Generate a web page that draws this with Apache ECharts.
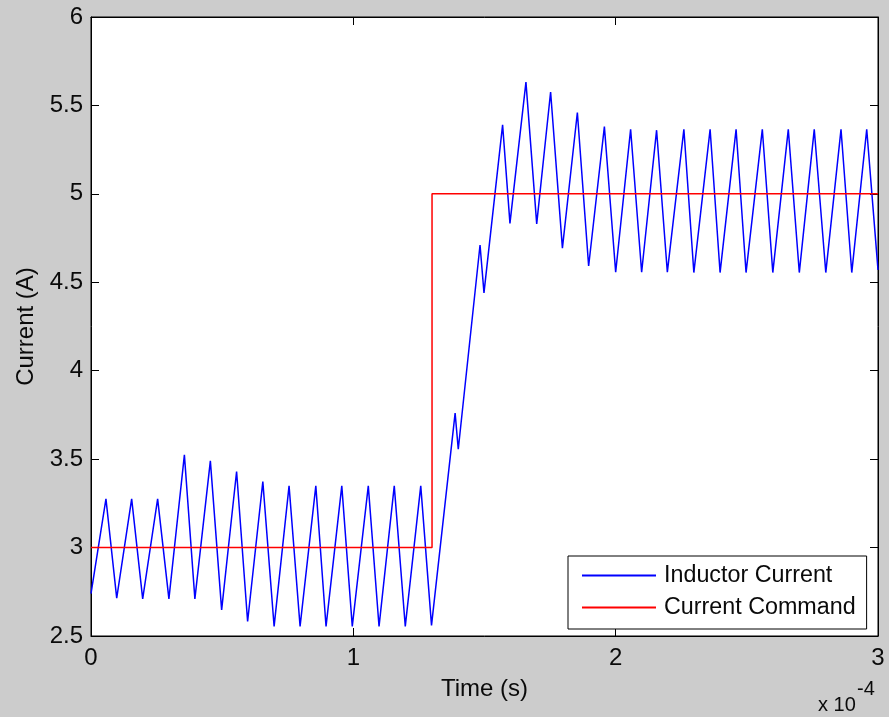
<!DOCTYPE html>
<html>
<head>
<meta charset="utf-8">
<script src="https://cdn.jsdelivr.net/npm/echarts@6/dist/echarts.min.js"></script>
<style>
  html, body { margin: 0; padding: 0; background: #cccccc; }
  #chart { width: 889px; height: 717px; }
</style>
</head>
<body>
<div id="chart"></div>
<script>
// Time axis values are in units of 1e-4 s (the axis carries an "x 10^-4" multiplier).
const inductorTime = [
  0, 0.057, 0.098, 0.155, 0.197, 0.254, 0.297, 0.356, 0.396, 0.455,
  0.498, 0.555, 0.597, 0.655, 0.698, 0.755, 0.797, 0.857, 0.896, 0.956,
  0.996, 1.057, 1.098, 1.156, 1.198, 1.257, 1.298, 1.388, 1.400, 1.483,
  1.498, 1.569, 1.597, 1.658, 1.699, 1.752, 1.797, 1.854, 1.897, 1.957,
  2.000, 2.057, 2.099, 2.156, 2.197, 2.260, 2.298, 2.360, 2.398, 2.459,
  2.497, 2.559, 2.599, 2.658, 2.700, 2.757, 2.801, 2.859, 2.900, 2.957,
  3.000
];
const inductorCurrent = [
  2.74, 3.275, 2.714, 3.275, 2.71, 3.275, 2.71, 3.524, 2.71, 3.49,
  2.648, 3.43, 2.582, 3.373, 2.554, 3.349, 2.554, 3.349, 2.554, 3.349,
  2.554, 3.349, 2.554, 3.349, 2.554, 3.349, 2.56, 3.76, 3.556, 4.711,
  4.44, 5.39, 4.833, 5.632, 4.83, 5.576, 4.693, 5.46, 4.592, 5.38,
  4.557, 5.365, 4.557, 5.36, 4.557, 5.365, 4.555, 5.365, 4.555, 5.365,
  4.555, 5.365, 4.555, 5.365, 4.555, 5.365, 4.555, 5.365, 4.555, 5.365,
  4.57
];
const commandTime = [0, 1.3, 1.3, 3];
const commandCurrent = [3, 3, 5, 5];

const xTicks = [0, 1, 2, 3];
const yTicks = [2.5, 3, 3.5, 4, 4.5, 5, 5.5, 6];

const FONT = "'Liberation Sans', Arial, sans-serif";
const TEXT = '#0a0a0a';
const FS = 24;

const zip = (a, b) => a.map((v, i) => [v, b[i]]);

const chart = echarts.init(document.getElementById('chart'), null, { renderer: 'canvas' });

const tickStyle = { show: true, inside: true, length: 8, lineStyle: { color: '#000', width: 1 } };
const lineAxis = { show: true, onZero: false, lineStyle: { color: '#000', width: 1 } };

chart.setOption({
  animation: false,
  backgroundColor: '#cccccc',
  textStyle: { fontFamily: FONT },
  grid: {
    left: 91, top: 17, right: 11, bottom: 81,
    show: true, backgroundColor: '#ffffff', borderColor: '#000', borderWidth: 1
  },
  xAxis: [
    {
      type: 'value', position: 'bottom',
      min: xTicks[0], max: xTicks[xTicks.length - 1], interval: 1,
      axisLine: lineAxis, axisTick: tickStyle, splitLine: { show: false },
      axisLabel: { margin: 10, color: TEXT, fontSize: FS, fontFamily: FONT,
                   formatter: v => String(Math.round(v)) },
      name: 'Time (s)', nameLocation: 'middle', nameGap: 41,
      nameTextStyle: { color: TEXT, fontSize: FS, fontFamily: FONT }
    },
    {
      type: 'value', position: 'top',
      min: xTicks[0], max: xTicks[xTicks.length - 1], interval: 1,
      axisLine: lineAxis, axisTick: tickStyle, splitLine: { show: false },
      axisLabel: { show: false }
    }
  ],
  yAxis: [
    {
      type: 'value', position: 'left',
      min: yTicks[0], max: yTicks[yTicks.length - 1], interval: 0.5,
      axisLine: lineAxis, axisTick: tickStyle, splitLine: { show: false },
      axisLabel: { margin: 8, color: TEXT, fontSize: FS, fontFamily: FONT,
                   formatter: v => String(Math.round(v * 10) / 10) },
      name: 'Current (A)', nameLocation: 'middle', nameGap: 53,
      nameTextStyle: { color: TEXT, fontSize: FS, fontFamily: FONT }
    },
    {
      type: 'value', position: 'right',
      min: yTicks[0], max: yTicks[yTicks.length - 1], interval: 0.5,
      axisLine: lineAxis, axisTick: tickStyle, splitLine: { show: false },
      axisLabel: { show: false }
    }
  ],
  legend: {
    orient: 'vertical',
    left: 568, top: 556,
    padding: [8, 11, 10, 13],
    backgroundColor: '#ffffff',
    borderColor: '#000', borderWidth: 1, borderRadius: 0,
    itemWidth: 74, itemHeight: 22, itemGap: 9,
    itemStyle: { opacity: 0 },
    textStyle: { color: TEXT, fontSize: 23.3, lineHeight: 22, fontFamily: FONT, padding: [0, 0, 0, 3] },
    data: ['Inductor Current', 'Current Command']
  },
  graphic: [
    { type: 'text', left: 818, top: 695,
      style: { text: 'x 10', fill: TEXT, font: '20px ' + FONT } },
    { type: 'text', left: 857, top: 679,
      style: { text: '-4', fill: TEXT, font: '20px ' + FONT } }
  ],
  series: [
    {
      name: 'Inductor Current', type: 'line',
      xAxisIndex: 0, yAxisIndex: 0,
      data: zip(inductorTime, inductorCurrent),
      symbol: 'none', showSymbol: false,
      lineStyle: { color: '#0000ff', width: 1.5 },
      itemStyle: { color: '#0000ff' }
    },
    {
      name: 'Current Command', type: 'line',
      xAxisIndex: 0, yAxisIndex: 0,
      data: zip(commandTime, commandCurrent),
      symbol: 'none', showSymbol: false,
      lineStyle: { color: '#ff0000', width: 1.5 },
      itemStyle: { color: '#ff0000' }
    }
  ]
});
</script>
</body>
</html>
